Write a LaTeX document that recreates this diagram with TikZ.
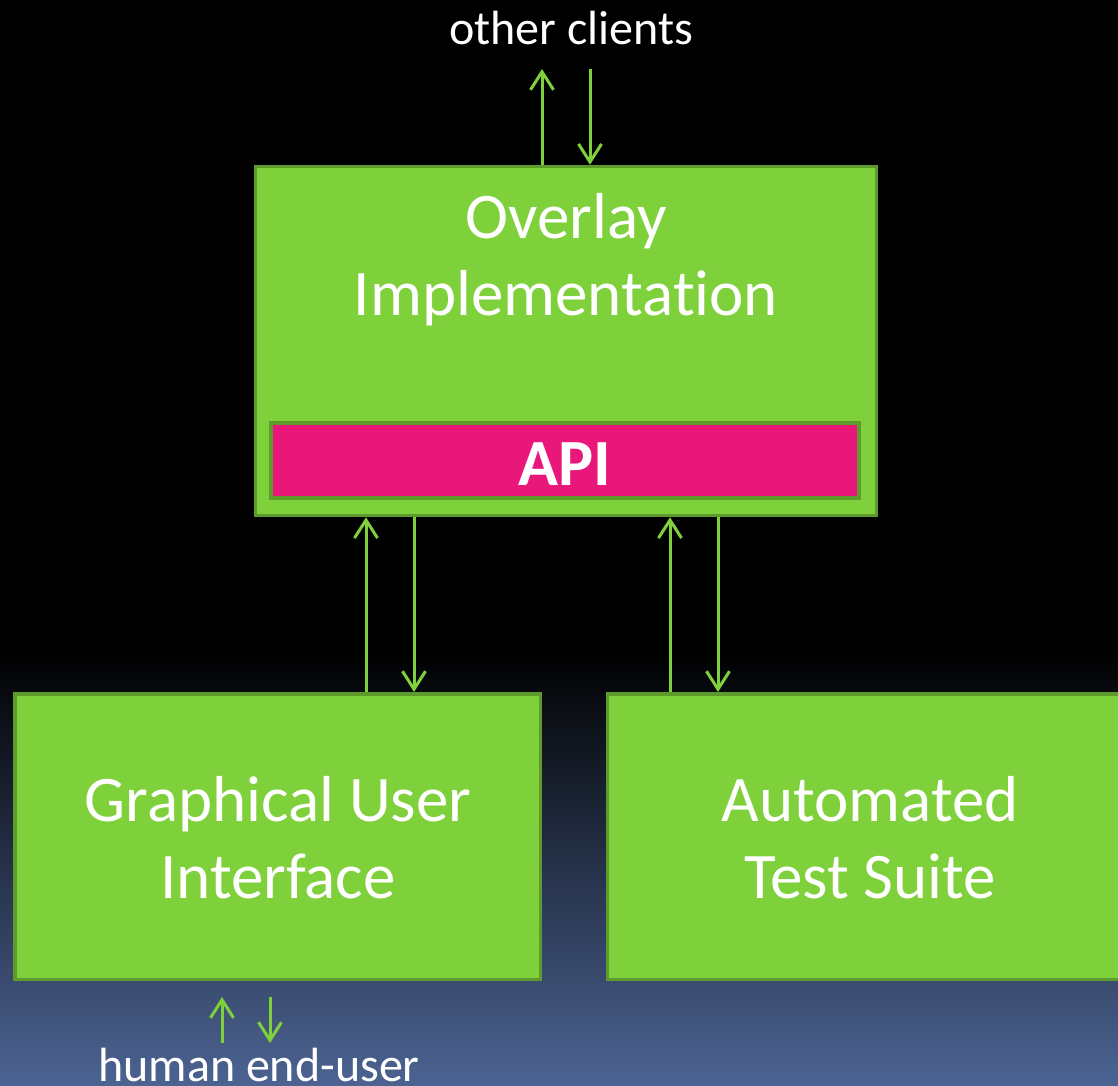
\documentclass[tikz,border=0pt]{standalone}
\usepackage{fontspec}
\setmainfont[Ligatures=NoCommon]{Carlito}
\usetikzlibrary{arrows.meta}
\definecolor{grn}{RGB}{127,209,59}
\definecolor{grnd}{RGB}{94,155,44}
\definecolor{apipink}{RGB}{233,23,122}
\definecolor{bgbot}{RGB}{76,99,146}
\begin{document}
\begin{tikzpicture}[x=1pt,y=-1pt,
  box/.style={draw=grnd,fill=grn,line width=3.5pt,inner sep=0pt},
  lbl/.style={text=white,font=\fontsize{65}{77}\selectfont,align=center},
  small/.style={text=white,font=\fontsize{48}{58}\selectfont,anchor=base,inner sep=0pt},
  arr/.style={draw=grn,line width=3pt,-{Straight Barb[length=18pt,width=23pt]}}]
\useasboundingbox (0,0) rectangle (1118,1085);
\clip (0,0) rectangle (1118,1085);
\fill[black] (0,0) rectangle (1118,651);
\shade[top color=black,bottom color=bgbot] (0,650) rectangle (1118,1085);
% boxes
\node[box,minimum width=621pt,minimum height=349pt] (overlay) at (566,341) {};
\node[lbl] (ovtext) at (566,260) {Overlay\\Implementation};
\node[draw=grnd,fill=apipink,line width=4pt,minimum width=588.5pt,minimum height=75.5pt,inner sep=0pt] (api) at (565,460.5) {};
\node[text=white,font=\fontsize{66}{77}\selectfont\bfseries,anchor=base] (apitext) at (565,485) {API};
\node[box,minimum width=525.5pt,minimum height=285.5pt] (gui) at (277.5,836.5) {};
\node[lbl] (guitext) at (278,838) {Graphical User\\Interface};
\node[box,minimum width=525.5pt,minimum height=285.5pt] (ats) at (870,836.5) {};
\node[lbl] (atstext) at (870,838) {Automated\\Test Suite};
% outside labels
\node[small] (other) at (571,44) {other clients};
\node[small] (human) at (259,1081) {human end-user};
% coordinates
\coordinate (oc1) at (542,69);
\coordinate (oc2) at (590,69);
\coordinate (g1) at (366,0);
\coordinate (g2) at (414,0);
\coordinate (t1) at (670,0);
\coordinate (t2) at (718,0);
\coordinate (h1a) at (222,1043);
\coordinate (h1b) at (222,997);
\coordinate (h2a) at (270,997);
\coordinate (h2b) at (270,1043);
% arrows
\draw[arr] (overlay.north -| oc1) -- (oc1);
\draw[arr] (oc2) -- (overlay.north -| oc2);
\draw[arr] (gui.north -| g1) -- (overlay.south -| g1);
\draw[arr] (overlay.south -| g2) -- (gui.north -| g2);
\draw[arr] (ats.north -| t1) -- (overlay.south -| t1);
\draw[arr] (overlay.south -| t2) -- (ats.north -| t2);
\draw[arr] (h1a) -- (h1b);
\draw[arr] (h2a) -- (h2b);
\end{tikzpicture}
\end{document}
